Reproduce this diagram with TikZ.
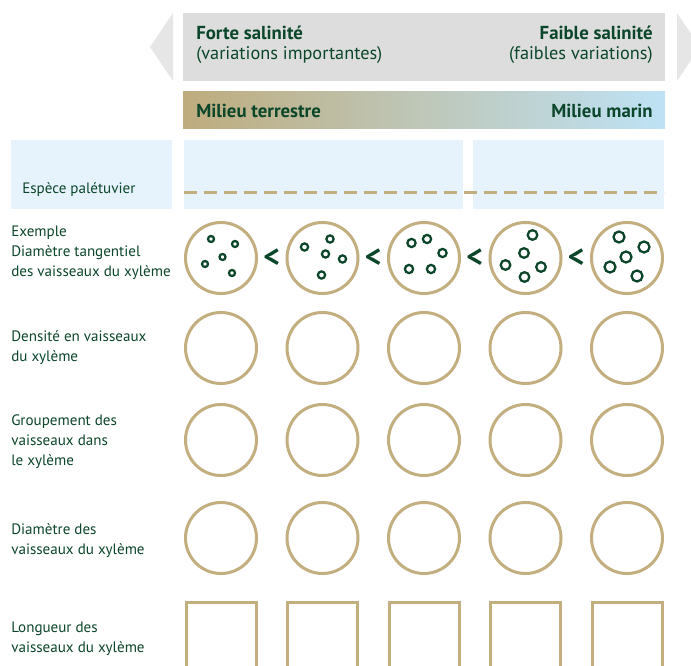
\documentclass[tikz,border=0pt]{standalone}
\usepackage{fontspec}
\setmainfont{PT Sans}
\usetikzlibrary{positioning,calc}
\definecolor{DarkGreen}{RGB}{11,70,42}
\definecolor{Sand}{RGB}{194,174,126}
\definecolor{LandTan}{RGB}{190,172,125}
\definecolor{SeaBlue}{RGB}{190,226,245}
\definecolor{PaleGrey}{RGB}{220,221,220}
\definecolor{ArrowGrey}{RGB}{229,230,229}
\definecolor{PaleBlue}{RGB}{230,243,252}
\tikzset{
  every node/.style={
    font=\fontsize{11.3}{15}\selectfont,
    text=DarkGreen,
    inner sep=0pt
  },
  heading/.style={
    font=\fontsize{14.1}{16}\selectfont\bfseries
  },
  subheading/.style={
    font=\fontsize{13.7}{16}\selectfont
  },
  rowlabel/.style={
    anchor=west,
    align=left
  },
  section/.style={
    shape=circle,
    draw=Sand,
    line width=2.25pt,
    minimum size=53.25pt
  },
  lengthbox/.style={
    shape=rectangle,
    draw=Sand,
    line width=2.25pt,
    minimum width=52.5pt,
    minimum height=52.5pt
  },
  vessel/.style={
    draw=DarkGreen,
    line width=1.7pt
  },
  lessthan/.style={
    font=\fontsize{24}{24}\selectfont\bfseries
  }
}

\begin{document}
\begin{tikzpicture}[x=0.75pt,y=-0.75pt]
\useasboundingbox (0,0) rectangle (691,666);
\clip (0,0) rectangle (691,666);

% salinity band
\fill[ArrowGrey] (150,47) -- (173,13) -- (173,81) -- cycle;
\fill[ArrowGrey] (700,47) -- (677,13) -- (677,81) -- cycle;
\fill[PaleGrey] (183,13) rectangle (665,81);
\node[heading,anchor=west] (strong) at (196,33) {Forte salinité};
\node[subheading,anchor=west] (strongvar) at (196,55.5) {(variations importantes)};
\node[heading,anchor=east] (weak) at (653,33) {Faible salinité};
\node[subheading,anchor=east] (weakvar) at (653,55.5) {(faibles variations)};

% environment band
\shade[left color=LandTan,right color=SeaBlue] (183,92) rectangle (665,129);
\node[heading,anchor=west] (land) at (196,111) {Milieu terrestre};
\node[heading,anchor=east] (sea) at (653,111) {Milieu marin};

% species
\fill[PaleBlue] (11,140) rectangle (172,209);
\fill[PaleBlue] (184,140) rectangle (463,209);
\fill[PaleBlue] (473,140) rectangle (664,209);
\node[rowlabel] (species) at (22,190) {Espèce palétuvier};
\coordinate (dashstart) at (184,193);
\coordinate (dashend) at (664,193);
\draw[Sand,line width=2.25pt,dash pattern=on 9.5pt off 5.5pt] (dashstart) -- (dashend);

% rows
\node[rowlabel] (example) at (11,253) {Exemple\\Diamètre tangentiel\\des vaisseaux du xylème};
\node[rowlabel] (density) at (11,348) {Densité en vaisseaux\\du xylème};
\node[rowlabel] (grouping) at (11,442) {Groupement des\\vaisseaux dans\\le xylème};
\node[rowlabel] (diameter) at (11,541) {Diamètre des\\vaisseaux du xylème};
\node[rowlabel] (length) at (11,639) {Longueur des\\vaisseaux du xylème};

\foreach \i/\x in {1/221,2/322.5,3/424,4/525.5,5/627}{
  \node[section] (ex\i) at (\x,258) {};
  \node[section] (de\i) at (\x,348) {};
  \node[section] (gr\i) at (\x,440) {};
  \node[section] (di\i) at (\x,538) {};
  \node[lengthbox] (le\i) at (\x,637) {};
}

\foreach \a/\b in {1/2,2/3,3/4,4/5}{
  \node[lessthan] (lt\a) at ($(ex\a)!0.5!(ex\b)$) {<};
}

% vessels
\foreach \dx/\dy in {-10/-19,14/-14,1.5/-1,-16/6,11/15}{
  \draw[vessel] ([shift={(\dx,\dy)}]ex1.center) circle[radius=3];
}
\foreach \dx/\dy in {7.5/-19,-18/-11,3/-4,20/1,-1/17}{
  \draw[vessel] ([shift={(\dx,\dy)}]ex2.center) circle[radius=3.6];
}
\foreach \dx/\dy in {-12.5/-15,3/-19,18.5/-5,-15/11,7/11}{
  \draw[vessel] ([shift={(\dx,\dy)}]ex3.center) circle[radius=4.1];
}
\foreach \dx/\dy in {7/-23,-1.5/-5,-20/7,15.5/9,-1/19}{
  \draw[vessel] ([shift={(\dx,\dy)}]ex4.center) circle[radius=4.8];
}
\foreach \dx/\dy in {-8/-21,17/-11,-1/-1,-17/9,10/18}{
  \draw[vessel] ([shift={(\dx,\dy)}]ex5.center) circle[radius=5.5];
}

\end{tikzpicture}
\end{document}
